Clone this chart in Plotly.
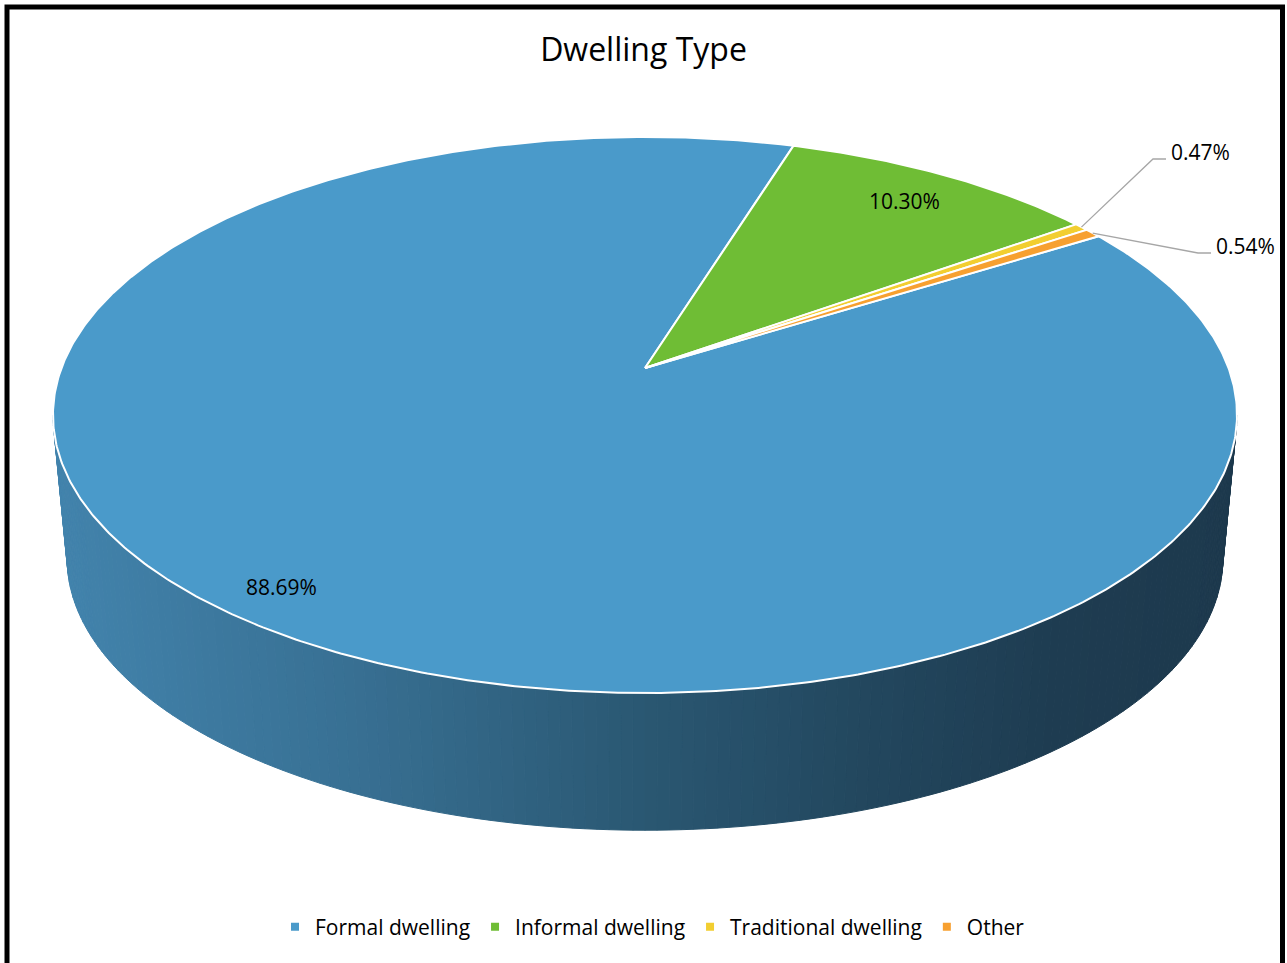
import numpy as np
import plotly.graph_objects as go

# ---- data ----
categories = ["Formal dwelling", "Informal dwelling", "Traditional dwelling", "Other"]
values = [88.69, 10.30, 0.47, 0.54]
value_labels = ["88.69%", "10.30%", "0.47%", "0.54%"]
colors = ["#4A9ACA", "#6FBD35", "#F2CE30", "#F7A030"]

# ---- layout / geometry constants ----
W, H = 1287, 963
CX, Y0 = 645.0, 368.0          # projected pie centre
A, B, C = 583.5, 270.1, -0.169  # perspective parameters of the top face
START = 57.9                    # first slice angle (deg, clockwise from 12 o'clock)
BOT_S, BOT_Y0 = 0.976, 513.0    # bottom face = scaled top face
N_STRIPS = 160
INSIDE_R = {"Formal dwelling": 0.9, "Informal dwelling": 0.85}
OUTSIDE_POS = {"Traditional dwelling": (1169, 152), "Other": (1214, 246)}


def proj(r, alpha_deg):
    a = np.radians(alpha_deg)
    x = r * np.sin(a)
    z = -r * np.cos(a)
    w = 1 + C * z
    return CX + A * x / w, Y0 + B * z / w


def proj_bottom(r, alpha_deg):
    X, Y = proj(r, alpha_deg)
    return CX + BOT_S * (X - CX), BOT_Y0 + BOT_S * (Y - Y0)


fig = go.Figure()

# ---- side (depth) of the pie, shaded strips ----
a_w = np.degrees(np.arccos(C))
alphas = np.linspace(a_w, 360 - a_w, N_STRIPS + 1)
xl, _ = proj(1, 360 - a_w)
xr, _ = proj(1, a_w)
stops_t = [0.0, 0.25, 0.5, 0.7, 0.85, 1.0]
stops_rgb = np.array([(66, 131, 172), (56, 112, 147), (42, 87, 114),
                      (34, 70, 93), (30, 60, 81), (29, 57, 77)])
for i in range(N_STRIPS):
    a0, a1 = alphas[i], alphas[i + 1]
    tx0, ty0 = proj(1, a0)
    tx1, ty1 = proj(1, a1)
    bx1, by1 = proj_bottom(1, a1)
    bx0, by0 = proj_bottom(1, a0)
    t = ((tx0 + tx1) / 2 - xl) / (xr - xl)
    rgb = [int(round(np.interp(t, stops_t, stops_rgb[:, k]))) for k in range(3)]
    col = "rgb(%d,%d,%d)" % tuple(rgb)
    fig.add_trace(go.Scatter(
        x=[tx0, tx1, bx1, bx0, tx0], y=[ty0, ty1, by1, by0, ty0],
        mode="lines", fill="toself", fillcolor=col,
        line=dict(color=col, width=1), hoverinfo="skip", showlegend=False))

# ---- top face slices ----
total = sum(values)
cum = START
mids = []
for cat, v, col in zip(categories, values, colors):
    span = v / total * 360
    arc = np.linspace(cum, cum + span, max(int(span * 2), 4))
    px, py = proj(1, arc)
    xs = np.concatenate([[CX], px, [CX]])
    ys = np.concatenate([[Y0], py, [Y0]])
    fig.add_trace(go.Scatter(
        x=xs, y=ys, mode="lines", fill="toself", fillcolor=col,
        line=dict(color="white", width=2), hoverinfo="skip", showlegend=False))
    mids.append(cum + span / 2)
    cum += span

# ---- data labels ----
for cat, lab, mid in zip(categories, value_labels, mids):
    if cat in INSIDE_R:
        lx, ly = proj(INSIDE_R[cat], mid)
        fig.add_annotation(x=float(lx), y=float(ly), text=lab, showarrow=False,
                           font=dict(family="Open Sans", size=21, color="#000000"))
    else:
        tx, ty = OUTSIDE_POS[cat]
        sx, sy = proj(1.0, mid)
        fig.add_trace(go.Scatter(
            x=[float(sx), tx - 16, tx - 3], y=[float(sy), ty + 7, ty + 7],
            mode="lines", line=dict(color="#A6A6A6", width=1.3),
            hoverinfo="skip", showlegend=False))
        fig.add_annotation(x=tx, y=ty, text=lab, showarrow=False, xanchor="left",
                           font=dict(family="Open Sans", size=21, color="#000000"))

# ---- legend entries ----
for cat, col in zip(categories, colors):
    fig.add_trace(go.Scatter(x=[None], y=[None], mode="markers", name=cat,
                             marker=dict(symbol="square", size=8, color=col)))

# ---- frame ----
fig.add_shape(type="rect", x0=7, x1=1282.5, y0=7, y1=1100,
              line=dict(color="black", width=5), layer="above")

fig.update_layout(
    width=W, height=H, autosize=False,
    margin=dict(l=0, r=0, t=0, b=0),
    paper_bgcolor="white", plot_bgcolor="white",
    title=dict(text="Dwelling Type", x=0.5, xanchor="center",
               y=1 - 50 / H, yanchor="middle", yref="container",
               font=dict(family="Open Sans", size=32, color="#000000")),
    xaxis=dict(range=[0, W], visible=False, fixedrange=True),
    yaxis=dict(range=[H, 0], visible=False, fixedrange=True),
    showlegend=True,
    legend=dict(orientation="h", x=0.507, xanchor="center", y=1 - 927 / H,
                yanchor="middle", font=dict(family="Open Sans", size=21, color="#000000"),
                bgcolor="rgba(0,0,0,0)"),
)

fig.write_html("out.html")
